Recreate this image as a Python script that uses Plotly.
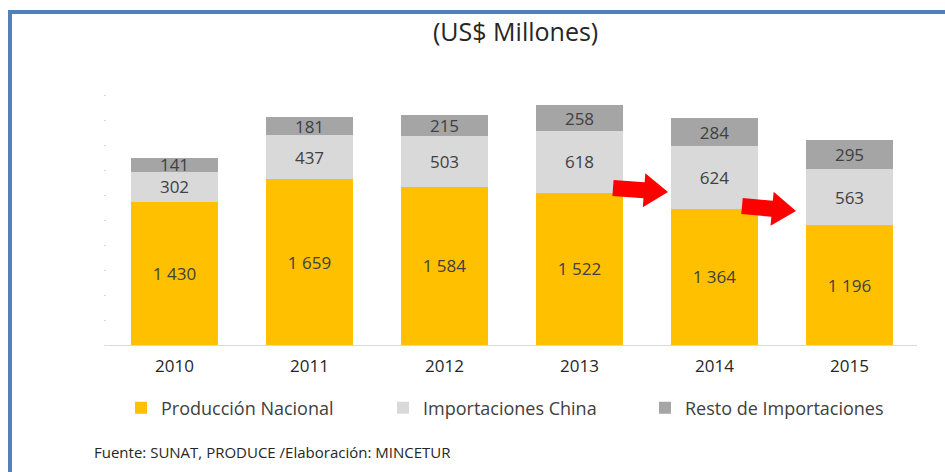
import math
import plotly.graph_objects as go

years = ["2010", "2011", "2012", "2013", "2014", "2015"]
produccion_nacional = [1430, 1659, 1584, 1522, 1364, 1196]
importaciones_china = [302, 437, 503, 618, 624, 563]
resto_importaciones = [141, 181, 215, 258, 284, 295]

series = [
    ("Producción Nacional", produccion_nacional, "#FFC000"),
    ("Importaciones China", importaciones_china, "#D9D9D9"),
    ("Resto de Importaciones", resto_importaciones, "#A5A5A5"),
]

W, H = 945, 472
L, R, T, B = 107, 28, 95, 127
PW, PH = W - L - R, H - T - B


def px(x):
    return (x - L) / PW


def py(y):
    return (H - B - y) / PH


def fmt(v):
    return f"{v:,}".replace(",", " ")


FONT = "Open Sans"
fig = go.Figure()
for name, vals, color in series:
    fig.add_trace(go.Bar(
        x=years, y=vals, name=name,
        marker=dict(color=color, line=dict(width=0)),
        text=[fmt(v) for v in vals],
        textposition="inside", insidetextanchor="middle",
        textfont=dict(family=FONT, size=17, color="#404040"),
        constraintext="none",
    ))


def arrow_path(x0, y0, x1, y1, shaft=8, head=17, headlen=24):
    dx, dy = x1 - x0, y1 - y0
    ln = math.hypot(dx, dy)
    ux, uy = dx / ln, dy / ln
    nx, ny = -uy, ux
    bx, by = x1 - ux * headlen, y1 - uy * headlen
    pts = [
        (x0 + nx * shaft, y0 + ny * shaft),
        (bx + nx * shaft, by + ny * shaft),
        (bx + nx * head, by + ny * head),
        (x1, y1),
        (bx - nx * head, by - ny * head),
        (bx - nx * shaft, by - ny * shaft),
        (x0 - nx * shaft, y0 - ny * shaft),
    ]
    return "M " + " L ".join(f"{px(a):.5f},{py(b):.5f}" for a, b in pts) + " Z"


shapes = [
    dict(type="path", xref="paper", yref="paper",
         path=arrow_path(613, 188, 668, 192), fillcolor="#FF0000",
         line=dict(width=0)),
    dict(type="path", xref="paper", yref="paper",
         path=arrow_path(742, 206, 796, 211), fillcolor="#FF0000",
         line=dict(width=0)),
    dict(type="path", xref="paper", yref="paper",
         path=f"M {px(10)},{py(480)} L {px(10)},{py(12)} L {px(950)},{py(12)}",
         line=dict(color="#4F81BD", width=4)),
]

annotations = [
    dict(text="(US$ Millones)", xref="paper", yref="paper",
         x=px(515), y=py(31), xanchor="center", yanchor="middle",
         showarrow=False, font=dict(family=FONT, size=25, color="#262626")),
    dict(text="Fuente: SUNAT, PRODUCE /Elaboración: MINCETUR", xref="paper",
         yref="paper", x=px(92), y=py(452), xanchor="left", yanchor="middle",
         showarrow=False, font=dict(family=FONT, size=15, color="#262626")),
]

fig.update_layout(
    width=W, height=H, barmode="stack", bargap=0.35,
    margin=dict(l=L, r=R, t=T, b=B),
    paper_bgcolor="white", plot_bgcolor="white",
    showlegend=True,
    legend=dict(orientation="h", x=px(121), y=py(408), xanchor="left",
                yanchor="middle", traceorder="normal",
                entrywidth=217, entrywidthmode="pixels",
                font=dict(family=FONT, size=18, color="#404040")),
    uniformtext=dict(minsize=17, mode="show"),
    shapes=shapes, annotations=annotations,
    xaxis=dict(showline=True, linecolor="#D9D9D9", linewidth=1, ticks="",
               tickfont=dict(family=FONT, size=17, color="#262626"),
               ticklabelstandoff=6, showgrid=False),
    yaxis=dict(range=[0, 2500], showgrid=False, showticklabels=False,
               ticks="outside", ticklen=2, tickcolor="#D9D9D9", dtick=250,
               showline=False, zeroline=False),
)

fig.write_html("out.html", config={"displayModeBar": False},
               post_script="document.body.style.margin='0px';")
